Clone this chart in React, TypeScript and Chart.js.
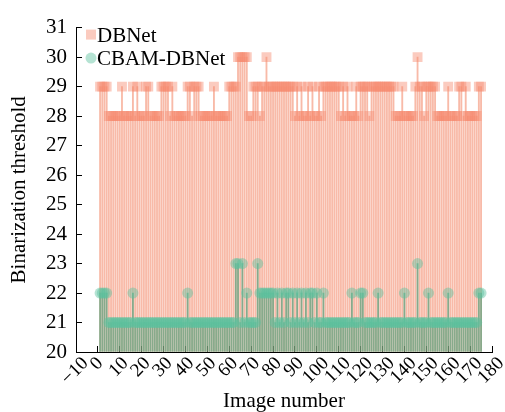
import React, { useEffect, useRef } from 'react';
import { Chart, registerables } from 'chart.js';

Chart.register(...registerables);

// ---- data ----
const dbnetValues = [
  29, 29, 29, 29, 28, 28, 28, 28, 28, 28,
  29, 28, 28, 28, 28, 29, 28, 29, 28, 28,
  28, 29, 29, 28, 28, 28, 28, 28, 29, 29,
  29, 29, 28, 29, 28, 28, 28, 28, 28, 28,
  29, 29, 28, 29, 29, 29, 28, 28, 28, 28,
  28, 28, 29, 28, 28, 28, 28, 28, 28, 29,
  29, 29, 29, 30, 30, 30, 30, 30, 28, 28,
  29, 29, 29, 28, 29, 29, 30, 29, 29, 29,
  29, 29, 29, 29, 29, 29, 29, 29, 29, 28,
  29, 28, 29, 28, 28, 29, 28, 29, 28, 28,
  29, 28, 29, 29, 29, 29, 29, 29, 29, 29,
  28, 29, 28, 29, 28, 28, 28, 29, 28, 29,
  29, 29, 29, 28, 29, 29, 29, 29, 29, 29,
  29, 29, 29, 29, 29, 28, 28, 28, 29, 28,
  28, 28, 28, 28, 29, 30, 29, 29, 28, 29,
  29, 29, 29, 29, 28, 28, 28, 28, 28, 29,
  28, 28, 28, 28, 29, 29, 28, 29, 28, 28,
  28, 28, 28, 29, 29,
];

const cbamValues = [
  22, 22, 22, 22, 21, 21, 21, 21, 21, 21,
  21, 21, 21, 21, 21, 22, 21, 21, 21, 21,
  21, 21, 21, 21, 21, 21, 21, 21, 21, 21,
  21, 21, 21, 21, 21, 21, 21, 21, 21, 21,
  22, 21, 21, 21, 21, 21, 21, 21, 21, 21,
  21, 21, 21, 21, 21, 21, 21, 21, 21, 21,
  21, 21, 23, 23, 21, 23, 21, 22, 21, 21,
  21, 21, 23, 22, 22, 22, 22, 22, 22, 22,
  21, 22, 21, 22, 21, 22, 22, 21, 22, 21,
  22, 21, 22, 21, 22, 21, 22, 22, 21, 22,
  21, 21, 22, 21, 21, 21, 21, 21, 21, 21,
  21, 21, 21, 21, 21, 22, 21, 21, 21, 22,
  22, 21, 21, 21, 21, 21, 21, 22, 21, 21,
  21, 21, 21, 21, 21, 21, 21, 21, 21, 22,
  21, 21, 21, 21, 21, 23, 21, 21, 21, 21,
  22, 21, 21, 21, 21, 21, 21, 21, 21, 22,
  21, 21, 21, 21, 21, 21, 21, 21, 21, 21,
  21, 21, 21, 22, 22,
];

// image numbers are the 1-based positions of the values
const imageNumbers = dbnetValues.map((_, i) => i + 1);

const xTickValues = [-10, 0, 10, 20, 30, 40, 50, 60, 70, 80, 90, 100, 110, 120, 130, 140, 150, 160, 170, 180];
const yTickValues = [20, 21, 22, 23, 24, 25, 26, 27, 28, 29, 30, 31];

const seriesNames = ['DBNet', 'CBAM-DBNet'];
const xTitle = 'Image number';
const yTitle = 'Binarization threshold';

const FONT = '"Liberation Serif", "Times New Roman", Times, serif';

const DB_MARK = 'rgba(246, 140, 112, 0.45)';
const DB_STEM = 'rgba(243, 140, 110, 0.6)';
const CB_MARK = 'rgba(90, 192, 158, 0.45)';
const CB_STEM = 'rgba(60, 160, 120, 0.6)';

const fmt = (v: number) => (v < 0 ? '\u2212' + Math.abs(v) : String(v));

const xLabelPlugin = {
  id: 'xRotLabels',
  afterDraw(chart: any) {
    const ctx = chart.ctx;
    const xs = chart.scales.x;
    const size = 19;
    ctx.save();
    ctx.font = `${size}px ${FONT}`;
    ctx.fillStyle = '#000';
    for (const v of xTickValues) {
      const label = fmt(v);
      const px = xs.getPixelForValue(v);
      const w = ctx.measureText(label).width;
      const h = size * 0.68;
      const e = (w + h) / Math.SQRT2;
      const cx = px - 2;
      const cy = xs.top + 3 + e / 2;
      ctx.save();
      ctx.translate(cx, cy);
      ctx.rotate(-Math.PI / 4);
      ctx.textAlign = 'center';
      ctx.textBaseline = 'alphabetic';
      ctx.fillText(label, 0, h / 2);
      ctx.restore();
    }
    ctx.restore();
  },
};

const legendPlugin = {
  id: 'innerLegend',
  afterDraw(chart: any) {
    const ctx = chart.ctx;
    const area = chart.chartArea;
    const x0 = area.left + 10;
    ctx.save();
    // DBNet square
    ctx.fillStyle = DB_MARK;
    ctx.fillRect(x0, area.top + 2, 10, 10);
    // CBAM circle
    ctx.fillStyle = CB_MARK;
    ctx.beginPath();
    ctx.arc(x0 + 5, area.top + 30.5, 5.5, 0, Math.PI * 2);
    ctx.fill();
    ctx.fillStyle = '#000';
    ctx.font = `21px ${FONT}`;
    ctx.textAlign = 'left';
    ctx.textBaseline = 'alphabetic';
    ctx.fillText(seriesNames[0], x0 + 11, area.top + 14);
    ctx.fillText(seriesNames[1], x0 + 11, area.top + 37);
    ctx.restore();
  },
};

export default function App() {
  const canvasRef = useRef<HTMLCanvasElement | null>(null);

  useEffect(() => {
    if (!canvasRef.current) return;
    Chart.defaults.font.family = FONT;
    const toPts = (vals: number[]) => vals.map((v, i) => ({ x: imageNumbers[i], y: v }));

    const chart = new Chart(canvasRef.current, {
      type: 'bar',
      data: {
        datasets: [
          {
            type: 'bar',
            label: seriesNames[0] + ' stems',
            data: toPts(dbnetValues),
            base: 20,
            backgroundColor: DB_STEM,
            borderWidth: 0,
            barThickness: 1.2,
            grouped: false,
            order: 4,
          } as any,
          {
            type: 'line',
            label: seriesNames[0],
            data: toPts(dbnetValues),
            showLine: false,
            pointStyle: 'rect',
            pointRadius: 7,
            pointBackgroundColor: DB_MARK,
            pointBorderWidth: 0,
            order: 3,
          } as any,
          {
            type: 'bar',
            label: seriesNames[1] + ' stems',
            data: toPts(cbamValues),
            base: 20,
            backgroundColor: CB_STEM,
            borderWidth: 0,
            barThickness: 1.2,
            grouped: false,
            order: 2,
          } as any,
          {
            type: 'line',
            label: seriesNames[1],
            data: toPts(cbamValues),
            showLine: false,
            pointStyle: 'circle',
            pointRadius: 5.5,
            pointBackgroundColor: CB_MARK,
            pointBorderWidth: 0,
            order: 1,
          } as any,
        ],
      },
      options: {
        animation: false,
        responsive: true,
        maintainAspectRatio: false,
        devicePixelRatio: 1,
        events: [],
        layout: { padding: { left: 0, right: 13, top: 21, bottom: 0 } },
        plugins: {
          legend: { display: false },
          tooltip: { enabled: false },
        },
        scales: {
          x: {
            type: 'linear',
            min: -10,
            max: 180,
            offset: false,
            z: 1,
            afterBuildTicks: (s: any) => {
              s.ticks = xTickValues.map((v) => ({ value: v }));
            },
            ticks: { display: false },
            grid: {
              display: true,
              offset: false,
              drawOnChartArea: false,
              drawTicks: true,
              tickLength: -6,
              color: '#000',
              lineWidth: 1,
            },
            border: { display: true, color: '#000', width: 1 },
            title: {
              display: true,
              text: xTitle,
              color: '#000',
              font: { size: 21, family: FONT, lineHeight: 1.0 },
              padding: 0,
            },
            afterFit: (s: any) => {
              s.height = 60;
            },
          } as any,
          y: {
            type: 'linear',
            min: 20,
            max: 31,
            z: 1,
            afterBuildTicks: (s: any) => {
              s.ticks = yTickValues.map((v) => ({ value: v }));
            },
            ticks: {
              color: '#000',
              font: { size: 21, family: FONT },
              padding: 15,
              callback: (v: any) => fmt(Number(v)),
            },
            grid: {
              display: true,
              offset: false,
              drawOnChartArea: false,
              drawTicks: true,
              tickLength: -6,
              color: '#000',
              lineWidth: 1,
            },
            border: { display: true, color: '#000', width: 1 },
            title: {
              display: true,
              text: yTitle,
              color: '#000',
              font: { size: 21, family: FONT, lineHeight: 1.0 },
              padding: { top: 9, bottom: 0 },
            },
            afterFit: (s: any) => {
              s.width = 76;
            },
          } as any,
        },
      } as any,
      plugins: [xLabelPlugin, legendPlugin],
    });

    return () => chart.destroy();
  }, []);

  return (
    <div style={{ position: 'fixed', left: 0, top: 0, width: 505, height: 412, background: '#fff' }}>
      <canvas ref={canvasRef} />
    </div>
  );
}
